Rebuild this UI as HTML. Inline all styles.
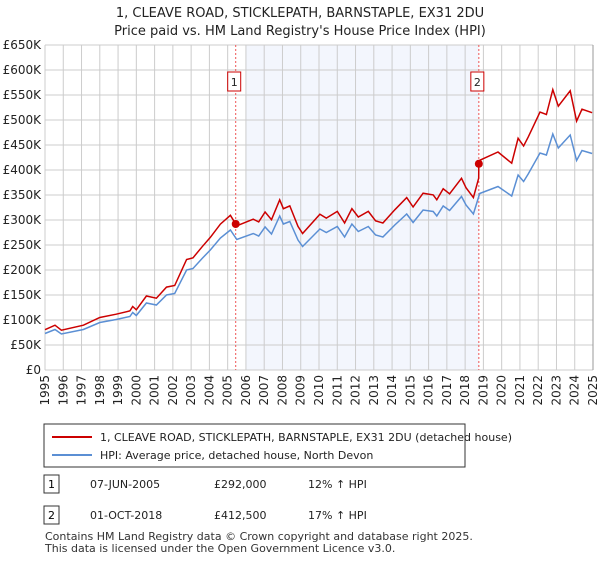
<!DOCTYPE html>
<html><head><meta charset="utf-8"><style>
body{margin:0;background:#fff;font-family:"Liberation Sans","DejaVu Sans",sans-serif;}
svg text{font-family:"DejaVu Sans","Liberation Sans",sans-serif;}
</style></head><body>
<svg id="c" width="600" height="560" xmlns="http://www.w3.org/2000/svg">
<text x="300" y="17" text-anchor="middle" font-size="13" fill="#222">1, CLEAVE ROAD, STICKLEPATH, BARNSTAPLE, EX31 2DU</text>
<text x="300" y="35" text-anchor="middle" font-size="13" fill="#222">Price paid vs. HM Land Registry's House Price Index (HPI)</text>
<g id="plot"></g>
<rect x="44" y="424" width="421" height="43" fill="#fff" stroke="#333"/>
<line x1="52" y1="437" x2="92" y2="437" stroke="#cc0000" stroke-width="2"/>
<text x="100" y="441" font-size="11" fill="#222">1, CLEAVE ROAD, STICKLEPATH, BARNSTAPLE, EX31 2DU (detached house)</text>
<line x1="52" y1="455" x2="92" y2="455" stroke="#5b8fd4" stroke-width="2"/>
<text x="100" y="459" font-size="11" fill="#222">HPI: Average price, detached house, North Devon</text>
<rect x="44" y="475" width="15" height="18" fill="#fff" stroke="#333"/>
<text x="51.5" y="488" text-anchor="middle" font-size="11">1</text>
<text x="90" y="488" font-size="11" fill="#222">07-JUN-2005</text>
<text x="214" y="488" font-size="11" fill="#222">£292,000</text>
<text x="308" y="488" font-size="11" fill="#222">12% ↑ HPI</text>
<rect x="44" y="506" width="15" height="18" fill="#fff" stroke="#333"/>
<text x="51.5" y="519" text-anchor="middle" font-size="11">2</text>
<text x="90" y="519" font-size="11" fill="#222">01-OCT-2018</text>
<text x="214" y="519" font-size="11" fill="#222">£412,500</text>
<text x="308" y="519" font-size="11" fill="#222">17% ↑ HPI</text>
<text x="45" y="540" font-size="11" fill="#333">Contains HM Land Registry data © Crown copyright and database right 2025.</text>
<text x="45" y="552" font-size="11" fill="#333">This data is licensed under the Open Government Licence v3.0.</text>
</svg>
<script>
const hpiYears=[1995.0,1995.55,1995.9,1997.1,1998.0,1998.9,1999.65,1999.8,2000.0,2000.55,2001.1,2001.65,2002.1,2002.75,2003.1,2003.6,2004.05,2004.6,2005.15,2005.5,2006.4,2006.7,2007.05,2007.4,2007.85,2008.05,2008.4,2008.85,2009.1,2010.05,2010.4,2011.0,2011.4,2011.8,2012.15,2012.7,2013.1,2013.5,2014.15,2014.8,2015.15,2015.7,2016.25,2016.45,2016.8,2017.15,2017.8,2018.05,2018.45,2018.8,2019.8,2020.55,2020.9,2021.2,2021.45,2022.1,2022.45,2022.8,2023.1,2023.75,2024.1,2024.4,2024.95];
const hpiValues=[73,81,72,81,95,101,107,115,109,134,130,150,153,200,203,223,240,264,280,261,273,268,286,272,308,292,297,260,247,282,275,287,266,292,277,287,270,266,290,312,295,320,317,308,328,319,347,330,312,353,367,348,390,377,392,434,430,472,444,470,419,439,433];
const saleYears=[2005.44,2018.75];
const salePrices=[292,412.5];
const yTicks=[0,50,100,150,200,250,300,350,400,450,500,550,600,650];
const yTickLabels=["£0","£50K","£100K","£150K","£200K","£250K","£300K","£350K","£400K","£450K","£500K","£550K","£600K","£650K"];
const xTicks=[1995,1996,1997,1998,1999,2000,2001,2002,2003,2004,2005,2006,2007,2008,2009,2010,2011,2012,2013,2014,2015,2016,2017,2018,2019,2020,2021,2022,2023,2024,2025];
const X0=45,X1=593,Y0=370,Y1=45;
const xs=y=>X0+(y-1995)/30*(X1-X0);
const ys=v=>Y0-v/650*(Y0-Y1);
const NS="http://www.w3.org/2000/svg";
const g=document.getElementById('plot');
function mk(t,a){const e=document.createElementNS(NS,t);for(const k in a)e.setAttribute(k,a[k]);g.appendChild(e);return e;}
function hpiAt(y){for(let i=0;i<hpiYears.length-1;i++){if(y<=hpiYears[i+1]){const f=(y-hpiYears[i])/(hpiYears[i+1]-hpiYears[i]);return hpiValues[i]+f*(hpiValues[i+1]-hpiValues[i]);}}return hpiValues[hpiValues.length-1];}
let e=mk('rect',{x:xs(2006),y:Y1,width:xs(saleYears[1])-xs(2006),height:Y0-Y1,fill:'#f3f6fd'});

yTicks.forEach((v,i)=>{let l=mk('line',{x1:X0,x2:X1,y1:ys(v),y2:ys(v),stroke:'#cccccc'});

let t=mk('text',{x:X0-4,y:ys(v)+4,'text-anchor':'end','font-size':12,fill:'#222'});t.textContent=yTickLabels[i];
});
xTicks.forEach(v=>{let l=mk('line',{x1:xs(v),x2:xs(v),y1:Y1,y2:Y0,stroke:'#cccccc'});

let t=mk('text',{x:0,y:0,'text-anchor':'end','font-size':12,fill:'#222',transform:`translate(${xs(v)+4},${Y0+5}) rotate(-90)`});t.textContent=v;
});
e=mk('line',{x1:X1,x2:X1,y1:Y1,y2:Y0,stroke:'#999'});
const h1=hpiAt(saleYears[0]),h2=hpiAt(saleYears[1]);
let rp='',bp='';
hpiYears.forEach((y,i)=>{const v=hpiValues[i];const r=y<saleYears[1]?v*salePrices[0]/h1:v*salePrices[1]/h2;
rp+=(i?'L':'M')+xs(y).toFixed(1)+','+ys(r).toFixed(1);bp+=(i?'L':'M')+xs(y).toFixed(1)+','+ys(v).toFixed(1);
if(i<hpiYears.length-1&&y<saleYears[1]&&hpiYears[i+1]>saleYears[1]){rp+='L'+xs(saleYears[1]-0.01).toFixed(1)+','+ys(hpiAt(saleYears[1])*salePrices[0]/h1).toFixed(1)+'L'+xs(saleYears[1]).toFixed(1)+','+ys(salePrices[1]).toFixed(1);}});
saleYears.forEach((y,i)=>{let l=mk('line',{x1:xs(y),x2:xs(y),y1:Y1,y2:Y0,stroke:'#ee5555','stroke-dasharray':'2,2'});
});
e=mk('path',{d:bp,fill:'none',stroke:'#5b8fd4','stroke-width':1.5});
e=mk('path',{d:rp,fill:'none',stroke:'#cc0000','stroke-width':1.5});
saleYears.forEach((y,i)=>{let c=mk('circle',{cx:xs(y),cy:ys(salePrices[i]),r:4,fill:'#cc0000'});

let b=mk('rect',{x:xs(y)-8,y:72,width:13,height:19,fill:'#fff',stroke:'#cc0000'});

let t=mk('text',{x:xs(y)-1.5,y:86,'text-anchor':'middle','font-size':11,fill:'#222'});t.textContent=String(i+1);
});
</script>
</body></html>
